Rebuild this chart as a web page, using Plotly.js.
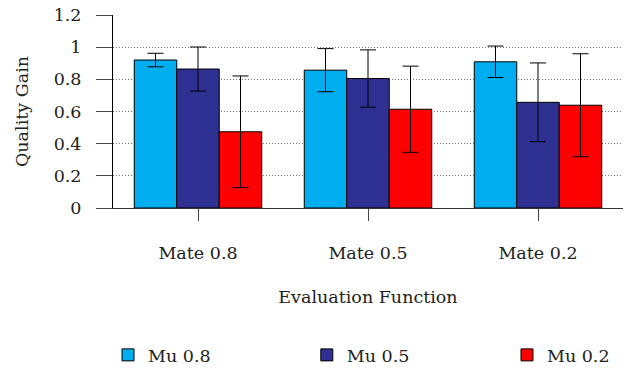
<!DOCTYPE html>
<html>
<head>
<meta charset="utf-8">
<script src="https://cdn.plot.ly/plotly-3.0.1.min.js"></script>
<style>html,body{margin:0;padding:0;background:#fff;}#chart{width:635px;height:368px;}</style>
</head>
<body>
<div id="chart"></div>
<script>
const categories = ["Mate 0.8", "Mate 0.5", "Mate 0.2"];
const seriesNames = ["Mu 0.8", "Mu 0.5", "Mu 0.2"];
const mu08 = [0.92, 0.857, 0.909];
const mu05 = [0.864, 0.805, 0.657];
const mu02 = [0.474, 0.614, 0.639];
const err08 = [0.042, 0.134, 0.098];
const err05 = [0.137, 0.178, 0.245];
const err02 = [0.347, 0.268, 0.32];
const colors = ["#00AEEF", "#2E3192", "#FF0000"];
const yTicks = [0, 0.2, 0.4, 0.6, 0.8, 1, 1.2];
const yTickText = ["0", "0.2", "0.4", "0.6", "0.8", "1", "1.2"];

const FONT = "DejaVu Serif, serif";
const FS = 17.5;
const values = [mu08, mu05, mu02];
const errs = [err08, err05, err02];
const legendIds = ["legend", "legend2", "legend3"];
const traces = values.map((v, i) => ({
  type: "bar",
  name: seriesNames[i],
  legend: legendIds[i],
  x: categories,
  y: v,
  marker: {color: colors[i], line: {color: "#000", width: 1}},
  error_y: {type: "data", array: errs[i], visible: true, color: "#000", thickness: 1, width: 8}
}));

const legendBase = (x) => ({
  orientation: "h", x: x, xanchor: "left",
  yref: "container", y: 1 - 355 / 368, yanchor: "middle",
  font: {family: FONT, size: FS, color: "#222"},
  bgcolor: "rgba(0,0,0,0)"
});

const layout = {
  width: 635, height: 368,
  margin: {l: 113, r: 12, t: 15, b: 160, autoexpand: false},
  paper_bgcolor: "#fff", plot_bgcolor: "#fff",
  font: {family: FONT, size: FS, color: "#222"},
  barmode: "group", bargap: 0.25, bargroupgap: 0,
  xaxis: {
    type: "category", range: [-0.5, 2.5], automargin: false,
    showline: true, linecolor: "#333", linewidth: 1,
    ticks: "outside", ticklen: 12, tickcolor: "#444",
    showgrid: false, zeroline: false,
    tickfont: {family: FONT, size: FS, color: "#222"},
    ticklabelstandoff: 17,
    title: {text: "Evaluation Function", font: {family: FONT, size: FS, color: "#222"}, standoff: 28}
  },
  yaxis: {
    range: [0, 1.2], tickvals: yTicks, ticktext: yTickText, automargin: false,
    showline: true, linecolor: "#000", linewidth: 1,
    ticks: "outside", ticklen: 16, tickcolor: "#444",
    showgrid: true, gridcolor: "#777", griddash: "1px,2px", gridwidth: 1,
    zeroline: false,
    ticklabelstandoff: 11,
    tickfont: {family: FONT, size: FS, color: "#222"},
    title: {text: "Quality Gain", font: {family: FONT, size: FS, color: "#222"}, standoff: 20}
  },
  showlegend: true,
  legend: legendBase(-0.0098),
  legend2: legendBase(0.380),
  legend3: legendBase(0.7725)
};

Plotly.newPlot("chart", traces, layout, {displayModeBar: false, staticPlot: true});
</script>
</body>
</html>
